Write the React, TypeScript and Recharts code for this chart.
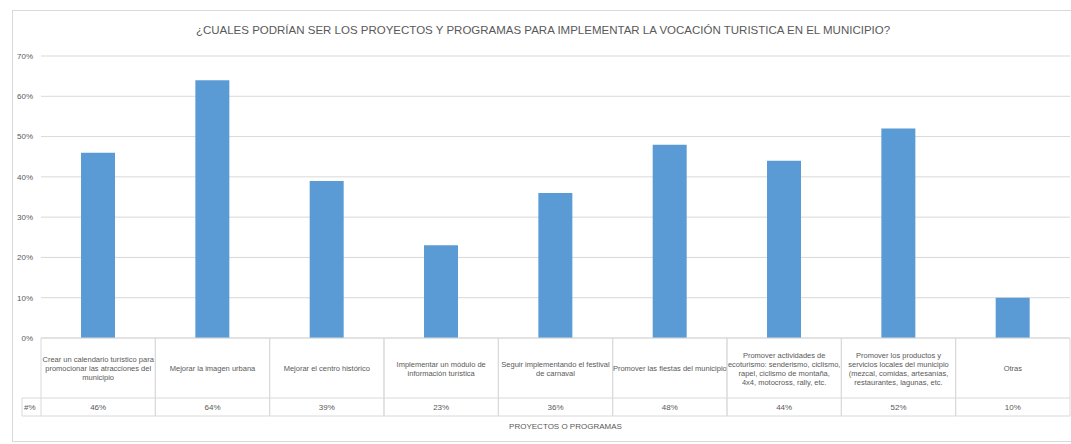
import React from "react";
import { BarChart, Bar, XAxis, YAxis, CartesianGrid } from "recharts";

const title =
  "¿CUALES PODRÍAN SER LOS PROYECTOS Y PROGRAMAS PARA IMPLEMENTAR LA VOCACIÓN TURISTICA EN EL MUNICIPIO?";
const axisTitle = "PROYECTOS O PROGRAMAS";
const seriesName = "#%";

// category labels, line breaks as in the data table
const categories = [
  "Crear un calendario turístico para\npromocionar las atracciones del\nmunicipio",
  "Mejorar la imagen urbana",
  "Mejorar el centro histórico",
  "Implementar un módulo de\ninformación turística",
  "Seguir implementando el festival\nde carnaval",
  "Promover las fiestas del municipio",
  "Promover actividades de\necoturismo: senderismo, ciclismo,\nrapel, ciclismo de montaña,\n4x4, motocross, rally, etc.",
  "Promover los productos y\nservicios locales del municipio\n(mezcal, comidas, artesanías,\nrestaurantes, lagunas, etc.",
  "Otras",
];
const values = [46, 64, 39, 23, 36, 48, 44, 52, 10];
const yTicks = [0, 10, 20, 30, 40, 50, 60, 70];

const data = categories.map((name, i) => ({ name, pct: values[i] }));

const FONT = "'Liberation Sans', Arial, sans-serif";
const TEXT = "#595959";
const LINE = "#d9d9d9";
const ROW1 = 60;
const ROW2 = 18;

function TableTick(props: any) {
  const { x, y, payload, index } = props;
  const half = payload && payload.offset ? payload.offset : 57;
  const left = x - half;
  const right = x + half;
  const lines = String(payload.value).split("\n");
  const lh = 9;
  const startY = y + ROW1 / 2 - ((lines.length - 1) * lh) / 2 + 3;
  return (
    <g>
      <line x1={left} y1={y} x2={left} y2={y + ROW1 + ROW2} stroke={LINE} />
      <line x1={right} y1={y} x2={right} y2={y + ROW1 + ROW2} stroke={LINE} />
      <line x1={left} y1={y + ROW1} x2={right} y2={y + ROW1} stroke={LINE} />
      <line x1={left} y1={y + ROW1 + ROW2} x2={right} y2={y + ROW1 + ROW2} stroke={LINE} />
      <text textAnchor="middle" fontSize={7.5} fill={TEXT} fontFamily={FONT}>
        {lines.map((l, i) => (
          <tspan key={i} x={x} y={startY + i * lh}>
            {l}
          </tspan>
        ))}
      </text>
      <text x={x} y={y + ROW1 + ROW2 / 2 + 3} textAnchor="middle" fontSize={8} fill={TEXT} fontFamily={FONT}>
        {values[index]}%
      </text>
      {index === 0 && (
        <g>
          <line x1={left - 19} y1={y + ROW1} x2={left} y2={y + ROW1} stroke={LINE} />
          <line x1={left - 19} y1={y + ROW1 + ROW2} x2={left} y2={y + ROW1 + ROW2} stroke={LINE} />
          <line x1={left - 19} y1={y + ROW1} x2={left - 19} y2={y + ROW1 + ROW2} stroke={LINE} />
          <text x={left - 17} y={y + ROW1 + ROW2 / 2 + 3} fontSize={8} fill={TEXT} fontFamily={FONT}>
            {seriesName}
          </text>
        </g>
      )}
      {index === Math.floor(categories.length / 2) && (
        <text x={x + 10} y={y + 91} textAnchor="middle" fontSize={8} fill={TEXT} fontFamily={FONT}>
          {axisTitle}
        </text>
      )}
    </g>
  );
}

export default function App() {
  return (
    <div
      style={{
        position: "absolute",
        left: 0,
        top: 0,
        width: 1071,
        height: 444,
        overflow: "hidden",
        background: "#fff",
      }}
    >
      <div
        style={{
          position: "absolute",
          left: 12,
          top: 10,
          width: 1080,
          height: 430,
          border: `1px solid ${LINE}`,
        }}
      />
      <div
        style={{
          position: "absolute",
          left: 543,
          top: 24,
          transform: "translateX(-50%)",
          whiteSpace: "nowrap",
          fontFamily: FONT,
          fontSize: 11.5,
          color: TEXT,
        }}
      >
        {title}
      </div>
      <div style={{ position: "absolute", left: 0, top: 0 }}>
        <BarChart
          width={1071}
          height={444}
          data={data}
          margin={{ top: 56, right: 1, left: 11, bottom: 0 }}
          barCategoryGap="35%"
        >
          <CartesianGrid vertical={false} stroke={LINE} />
          <YAxis
            width={30}
            domain={[0, 70]}
            ticks={yTicks}
            tickFormatter={(v: number) => `${v}%`}
            axisLine={false}
            tickLine={false}
            tick={{ fontSize: 8, fill: TEXT, fontFamily: FONT }}
          />
          <XAxis
            dataKey="name"
            height={106}
            interval={0}
            tickLine={false}
            tickSize={0}
            tickMargin={0}
            axisLine={{ stroke: LINE }}
            tick={<TableTick />}
          />
          <Bar dataKey="pct" fill="#5B9BD5" isAnimationActive={false} />
        </BarChart>
      </div>
    </div>
  );
}
